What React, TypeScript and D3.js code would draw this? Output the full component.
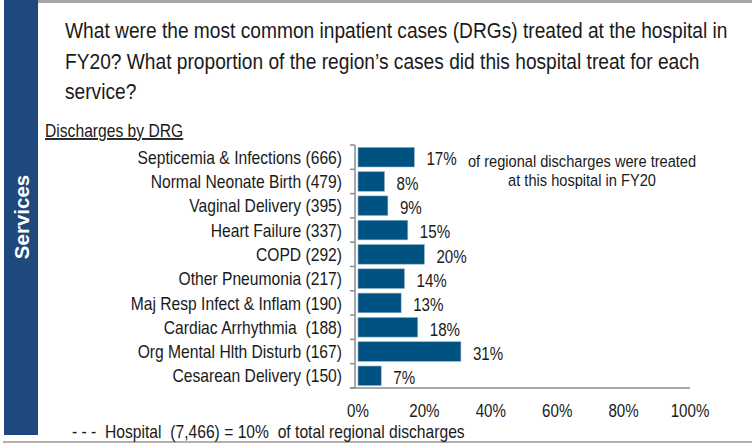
import React from "react";
import * as d3 from "d3";

const categories = [
  "Septicemia & Infections (666)",
  "Normal Neonate Birth (479)",
  "Vaginal Delivery (395)",
  "Heart Failure (337)",
  "COPD (292)",
  "Other Pneumonia (217)",
  "Maj Resp Infect & Inflam (190)",
  "Cardiac Arrhythmia  (188)",
  "Org Mental Hlth Disturb (167)",
  "Cesarean Delivery (150)",
];
const shares = [17, 8, 9, 15, 20, 14, 13, 18, 31, 7];
const xTicks = [0, 20, 40, 60, 80, 100];
const titleLines = [
  "What were the most common inpatient cases (DRGs) treated at the hospital in",
  "FY20? What proportion of the region\u2019s cases did this hospital treat for each",
  "service?",
];
const noteLines = ["of regional discharges were treated", "at this hospital in FY20"];

const FONT = "'Liberation Sans', Arial, Helvetica, sans-serif";
const TEXT = "#1a1a1a";
const SX = 0.86;

function CText(props: {
  x: number;
  y: number;
  size: number;
  anchor?: string;
  dy?: string;
  underline?: boolean;
  children: React.ReactNode;
}) {
  const { x, y, size, anchor = "start", dy, underline, children } = props;
  return (
    <g transform={`translate(${x},${y}) scale(${SX},1)`}>
      <text
        x={0}
        y={0}
        dy={dy}
        fontSize={size}
        textAnchor={anchor}
        fill={TEXT}
        textDecoration={underline ? "underline" : undefined}
        style={{ whiteSpace: "pre" }}
      >
        {children}
      </text>
    </g>
  );
}

export default function App() {
  const W = 752;
  const H = 447;
  const x = d3.scaleLinear().domain([0, 100]).range([358, 690]);
  const y = d3
    .scaleBand<string>()
    .domain(categories)
    .range([145, 388])
    .paddingInner(0.19)
    .paddingOuter(0.095);
  const step = y.step();
  const top = 145;
  const boundaries = d3.range(categories.length + 1).map((i) => top + i * step);

  return (
    <svg
      width={W}
      height={H}
      style={{ position: "absolute", left: 0, top: 0, background: "#fff" }}
      fontFamily={FONT}
    >
      <rect x={0} y={0} width={W} height={H} fill="#fff" />
      {/* top and bottom rules */}
      <rect x={38} y={0} width={W - 38} height={3} fill="#a6a6a6" />
      <rect x={3} y={441} width={W - 3} height={2} fill="#b0b0b0" />
      {/* left band */}
      <rect x={4} y={0} width={34} height={435} fill="#1f497d" />
      <text
        transform="translate(28.5,217) rotate(-90)"
        textAnchor="middle"
        fill="#fff"
        fontWeight="bold"
        fontSize={20.5}
      >
        Services
      </text>
      {/* title */}
      {titleLines.map((t, i) => (
        <CText key={i} x={65} y={38 + i * 30.5} size={22.3}>
          {t}
        </CText>
      ))}
      <CText x={45} y={137} size={18.2} underline>
        Discharges by DRG
      </CText>
      {/* axes */}
      <line x1={355} x2={355} y1={top} y2={388} stroke="#8c8c8c" strokeWidth={1.5} />
      {boundaries.map((b, i) => (
        <line key={i} x1={350} x2={355} y1={b} y2={b} stroke="#8c8c8c" strokeWidth={1.5} />
      ))}
      <line x1={350} x2={x(100)} y1={388} y2={388} stroke="#8c8c8c" strokeWidth={1.5} />
      {xTicks.map((t) => (
        <CText key={t} x={x(t)} y={417} size={17.6} anchor="middle">
          {t}%
        </CText>
      ))}
      {/* bars */}
      {categories.map((c, i) => (
        <g key={c}>
          <rect
            x={x(0)}
            y={y(c)!}
            width={x(shares[i]) - x(0)}
            height={y.bandwidth()}
            fill="#005283"
            stroke="#9ab8cc"
            strokeWidth={0.6}
          />
          <CText x={342} y={y(c)! + y.bandwidth() / 2} dy="0.36em" size={18.2} anchor="end">
            {c}
          </CText>
          <CText x={x(shares[i]) + 12} y={y(c)! + y.bandwidth() / 2 + 2} dy="0.36em" size={17.6}>
            {shares[i]}%
          </CText>
        </g>
      ))}
      {/* note */}
      {noteLines.map((t, i) => (
        <CText key={i} x={582} y={167 + i * 19} size={17} anchor="middle">
          {t}
        </CText>
      ))}
      <CText x={72} y={438} size={18.2}>
        {"- - -  Hospital  (7,466) = 10%  of total regional discharges"}
      </CText>
    </svg>
  );
}
